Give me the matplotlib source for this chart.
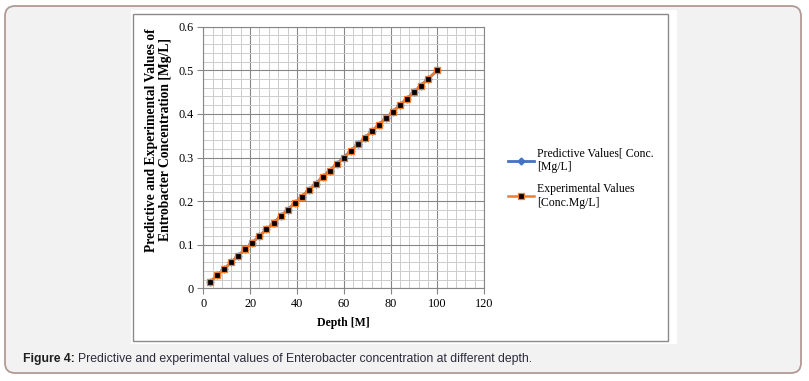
import matplotlib
matplotlib.use('Agg')
import matplotlib.pyplot as plt
from matplotlib.patches import FancyBboxPatch, Rectangle
from matplotlib.transforms import IdentityTransform
from matplotlib.ticker import MultipleLocator

depth = [3, 6, 9, 12, 15, 18, 21, 24, 27, 30, 33, 36, 39, 42, 45, 48,
         51, 54, 57, 60, 63, 66, 69, 72, 75, 78, 81, 84, 87, 90, 93, 96, 100]
predictive = [0.015, 0.030, 0.045, 0.060, 0.075, 0.090, 0.105, 0.120, 0.135, 0.150, 0.165,
              0.180, 0.195, 0.210, 0.225, 0.240, 0.255, 0.270, 0.285, 0.300, 0.315, 0.330,
              0.345, 0.360, 0.375, 0.390, 0.405, 0.420, 0.435, 0.450, 0.465, 0.480, 0.500]
experimental = [0.015, 0.030, 0.045, 0.060, 0.075, 0.090, 0.105, 0.120, 0.135, 0.150, 0.165,
                0.180, 0.195, 0.210, 0.225, 0.240, 0.255, 0.270, 0.285, 0.300, 0.315, 0.330,
                0.345, 0.360, 0.375, 0.390, 0.405, 0.420, 0.435, 0.450, 0.465, 0.480, 0.500]

W, H = 809, 381
SERIF = ['Liberation Serif', 'DejaVu Serif']
SANS = ['Liberation Sans', 'DejaVu Sans']
fig = plt.figure(figsize=(W / 100, H / 100), dpi=100)
fig.patch.set_facecolor('white')

# 外框（圆角）+ 白色图片区域 + 图表边框，全部用像素坐标
fig.add_artist(FancyBboxPatch((5, 8), 796, 367, boxstyle="round,pad=0,rounding_size=10",
                              transform=IdentityTransform(), facecolor='#f2f2f2',
                              edgecolor='#b39a95', linewidth=1.3, zorder=0))
fig.add_artist(Rectangle((131, H - 344), 546, 334, transform=IdentityTransform(),
                         facecolor='white', edgecolor='none', zorder=0.5))
fig.add_artist(Rectangle((133, H - 341), 535, 327, transform=IdentityTransform(),
                         facecolor='none', edgecolor='#8a8a8a', linewidth=1, zorder=0.6))

x0, x1 = 203.3, 484.1
y0, y1 = 288.3, 26.7
ax = fig.add_axes([x0 / W, (H - y0) / H, (x1 - x0) / W, (y0 - y1) / H])
ax.set_zorder(2)
ax.set_facecolor('white')
ax.set_xlim(0, 120)
ax.set_ylim(0, 0.6)
ax.xaxis.set_major_locator(MultipleLocator(20))
ax.xaxis.set_minor_locator(MultipleLocator(4))
ax.yaxis.set_major_locator(MultipleLocator(0.1))
ax.yaxis.set_minor_locator(MultipleLocator(0.02))
ax.set_yticks([0, 0.1, 0.2, 0.3, 0.4, 0.5, 0.6])
ax.set_yticklabels(['0', '0.1', '0.2', '0.3', '0.4', '0.5', '0.6'])
ax.grid(which='major', color='#878787', linewidth=0.8)
ax.grid(which='minor', color='#cccccc', linewidth=0.7)
ax.set_axisbelow(True)
for s in ax.spines.values():
    s.set_color('#878787')
    s.set_linewidth(0.8)
ax.tick_params(which='major', length=4, color='#878787', labelsize=8.8, pad=3)
ax.tick_params(which='minor', length=0)
for lab in ax.get_xticklabels() + ax.get_yticklabels():
    lab.set_family(SERIF)

ax.plot(depth, predictive, color='#4472c4', linewidth=2, marker='D', markersize=3.5,
        label='Predictive Values[ Conc.\n[Mg/L]', zorder=3)
ax.plot(depth, experimental, color='#ed7d31', linewidth=1.8, marker='s', markersize=5,
        markerfacecolor='black', markeredgecolor='#ed7d31', markeredgewidth=0.9,
        label='Experimental Values\n[Conc.Mg/L]', zorder=4)

ax.set_xlabel('Depth [M]', family=SERIF, fontweight='bold', fontsize=8.5, labelpad=5)
ax.set_ylabel('Predictive and Experimental Values of\nEntrobacter Concentration [Mg/L]',
              family=SERIF, fontweight='bold', fontsize=9.8, linespacing=1.05)
ax.yaxis.set_label_coords(-0.113, 0.567)

ax.legend(loc='center left', bbox_to_anchor=(497 / W, 1 - 178 / H),
          bbox_transform=fig.transFigure, frameon=False, handlelength=2.2,
          handletextpad=0.3, labelspacing=0.8, prop={'family': SERIF, 'size': 8.5})

# 图注
t1 = fig.text(23 / W, 1 - 359 / H, 'Figure 4:', family=SANS, va='center',
              fontweight='bold', fontsize=8.8, color='#1f1f1f')
fig.canvas.draw()
bb = t1.get_window_extent(fig.canvas.get_renderer())
fig.text((bb.x1 + 3) / W, 1 - 359 / H,
         'Predictive and experimental values of Enterobacter concentration at different depth.',
         family=SANS, fontsize=8.8, color='#2b2b3b', va='center')

plt.savefig('out.png', dpi=100, facecolor=fig.get_facecolor())
plt.close()
